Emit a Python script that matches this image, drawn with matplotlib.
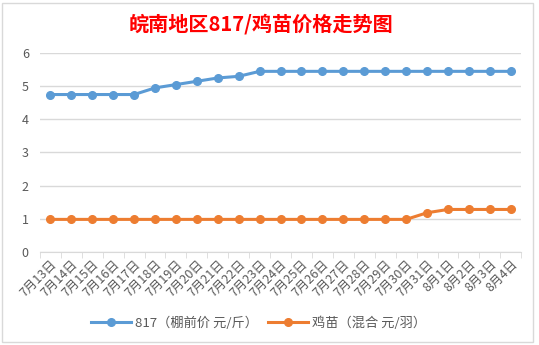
import matplotlib.pyplot as plt
from matplotlib.patches import Rectangle

plt.rcParams['font.family'] = ['Noto Sans CJK SC', 'DejaVu Sans']

dates = ['7月13日', '7月14日', '7月15日', '7月16日', '7月17日', '7月18日', '7月19日',
         '7月20日', '7月21日', '7月22日', '7月23日', '7月24日', '7月25日', '7月26日',
         '7月27日', '7月28日', '7月29日', '7月30日', '7月31日', '8月1日', '8月2日',
         '8月3日', '8月4日']
price_817 = [4.75, 4.75, 4.75, 4.75, 4.75, 4.95, 5.05, 5.15, 5.25, 5.3, 5.45, 5.45,
             5.45, 5.45, 5.45, 5.45, 5.45, 5.45, 5.45, 5.45, 5.45, 5.45, 5.45]
price_chick = [0.98, 0.98, 0.98, 0.98, 0.98, 0.98, 0.98, 0.98, 0.98, 0.98, 0.98, 0.98,
               0.98, 0.98, 0.98, 0.98, 0.98, 0.98, 1.18, 1.28, 1.28, 1.28, 1.28]
labels = ['817（棚前价 元/斤）', '鸡苗（混合 元/羽）']

fig = plt.figure(figsize=(5.39, 3.45), dpi=100)
fig.patches.append(Rectangle((0.003, 0.01), 0.985, 0.982, transform=fig.transFigure,
                             fill=False, edgecolor='#d9d9d9', linewidth=1))
ax = fig.add_axes([0.074, 0.270, 0.893, 0.576])

x = range(len(dates))
ax.plot(x, price_817, color='#5B9BD5', linewidth=2.2, marker='o', markersize=5.5, label=labels[0])
ax.plot(x, price_chick, color='#ED7D31', linewidth=2.2, marker='o', markersize=5.5, label=labels[1])

ax.set_xlim(-0.5, len(dates) - 0.5)
ax.set_ylim(0, 6)
ax.set_yticks(range(0, 7))
ax.grid(axis='y', color='#d9d9d9', linewidth=1)
ax.set_axisbelow(True)

ax.set_xticks(x)
ax.set_xticklabels(dates, rotation=45, ha='right', rotation_mode='anchor',
                   fontsize=9, color='#595959')
ax.tick_params(axis='x', length=0, pad=4)
ax.set_xticks([i - 0.5 for i in range(len(dates) + 1)], minor=True)
ax.tick_params(axis='x', which='minor', length=4, color='#d9d9d9', direction='out')
ax.tick_params(axis='y', length=0, labelsize=9, labelcolor='#595959', pad=8)

for s in ['top', 'right', 'left']:
    ax.spines[s].set_visible(False)
ax.spines['bottom'].set_color('#d9d9d9')

fig.text(0.485, 0.93, '皖南地区817/鸡苗价格走势图', color='red', fontsize=14.5,
         fontweight='bold', ha='center', va='center')

fig.legend(loc='center', bbox_to_anchor=(0.48, 0.063), ncol=2, frameon=False,
           fontsize=9.5, labelcolor='#595959', handlelength=3, columnspacing=0.8,
           handletextpad=0.3)

plt.savefig('out.png', dpi=100)
